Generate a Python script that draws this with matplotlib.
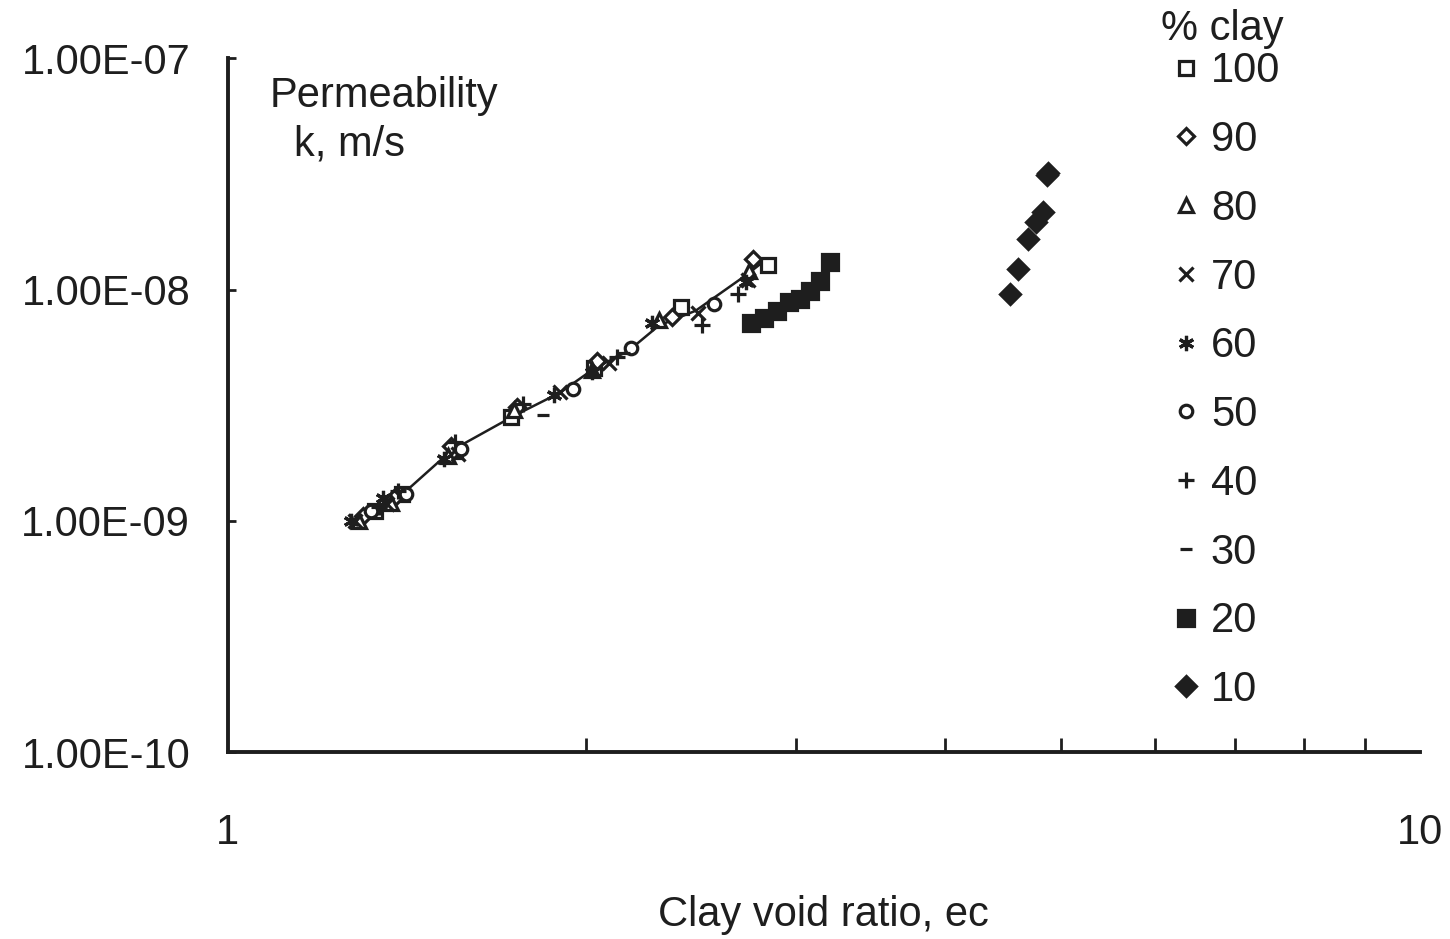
import numpy as np
import matplotlib.pyplot as plt
from matplotlib.ticker import FixedLocator, FuncFormatter, NullFormatter

plt.rcParams['font.family'] = ['Liberation Sans', 'DejaVu Sans']

# data (clay void ratio, permeability m/s)
x_100 = [1.33, 1.40, 1.55, 1.73, 2.03, 2.40, 2.84]
k_100 = [1.10e-9, 1.30e-9, 2.00e-9, 2.80e-9, 4.60e-9, 8.40e-9, 1.28e-8]
x_90 = [1.30, 1.38, 1.54, 1.75, 2.04, 2.36, 2.76]
k_90 = [1.05e-9, 1.25e-9, 2.10e-9, 3.10e-9, 4.90e-9, 7.60e-9, 1.35e-8]
x_80 = [1.29, 1.37, 1.53, 1.74, 2.02, 2.30, 2.74]
k_80 = [1.00e-9, 1.20e-9, 1.90e-9, 3.00e-9, 4.50e-9, 7.40e-9, 1.20e-8]
x_70 = [1.28, 1.36, 1.56, 1.90, 2.09, 2.48, 2.73]
k_70 = [1.00e-9, 1.18e-9, 1.95e-9, 3.60e-9, 4.80e-9, 7.90e-9, 1.10e-8]
x_60 = [1.27, 1.35, 1.52, 1.88, 2.02, 2.27, 2.72]
k_60 = [1.00e-9, 1.25e-9, 1.85e-9, 3.50e-9, 4.40e-9, 7.20e-9, 1.08e-8]
x_50 = [1.32, 1.41, 1.57, 1.95, 2.18, 2.56]
k_50 = [1.10e-9, 1.30e-9, 2.05e-9, 3.70e-9, 5.60e-9, 8.70e-9]
x_40 = [1.34, 1.39, 1.55, 1.77, 2.12, 2.50, 2.68]
k_40 = [1.15e-9, 1.35e-9, 2.20e-9, 3.20e-9, 5.10e-9, 7.00e-9, 9.60e-9]
x_30 = [1.84, 2.15]
k_30 = [2.87e-9, 5.30e-9]
x_20 = [2.75, 2.82, 2.89, 2.96, 3.02, 3.08, 3.14, 3.20]
k_20 = [7.2e-9, 7.5e-9, 8.1e-9, 8.8e-9, 9.1e-9, 9.9e-9, 1.09e-8, 1.31e-8]
x_10 = [4.53, 4.60, 4.69, 4.77, 4.83, 4.87, 4.88]
k_10 = [9.6e-9, 1.23e-8, 1.66e-8, 1.95e-8, 2.16e-8, 3.12e-8, 3.20e-8]

# thin connecting line through the main cluster
line_x = [1.285, 1.32, 1.367, 1.394, 1.54, 1.74, 1.90, 2.03, 2.17, 2.30, 2.47, 2.72, 2.81]
line_k = [1.04e-9, 1.13e-9, 1.22e-9, 1.27e-9, 2.01e-9, 2.85e-9, 3.58e-9, 4.55e-9,
          5.44e-9, 6.98e-9, 8.1e-9, 1.15e-8, 1.31e-8]

ink = '#1e1e1e'
fs = 30

series = [
  ('100', x_100, k_100, dict(marker='s', mfc='white', ms=10)),
  ('90', x_90, k_90, dict(marker='D', mfc='white', ms=8)),
  ('80', x_80, k_80, dict(marker='^', mfc='white', ms=10)),
  ('70', x_70, k_70, dict(marker='x', ms=10)),
  ('60', x_60, k_60, dict(marker=(6, 2, 0), ms=11)),
  ('50', x_50, k_50, dict(marker='o', mfc='white', ms=9)),
  ('40', x_40, k_40, dict(marker='+', ms=12)),
  ('30', x_30, k_30, dict(marker='_', ms=9)),
  ('20', x_20, k_20, dict(marker='s', mfc=ink, ms=11)),
  ('10', x_10, k_10, dict(marker='D', mfc=ink, ms=10)),
]

fig = plt.figure(figsize=(14.5, 9.39), dpi=100)
ax = fig.add_axes([0.157, 0.199, 0.822, 0.739])
ax.set_xscale('log')
ax.set_yscale('log')
ax.set_xlim(1, 10)
ax.set_ylim(1e-10, 1e-7)

ax.plot(line_x, line_k, '-', color=ink, lw=1.8, zorder=1)
for name, xs, ks, style in series:
  ax.plot(xs, ks, linestyle='none', color=ink, mec=ink, mew=2.3,
          label=name, zorder=3, **style)

for side in ['top', 'right']:
  ax.spines[side].set_visible(False)
for side in ['left', 'bottom']:
  ax.spines[side].set_linewidth(2.8)
  ax.spines[side].set_color(ink)

ax.xaxis.set_major_locator(FixedLocator([1, 10]))
ax.xaxis.set_minor_locator(FixedLocator([2, 3, 4, 5, 6, 7, 8, 9]))
ax.xaxis.set_minor_formatter(NullFormatter())
ax.xaxis.set_major_formatter(FuncFormatter(lambda v, p: f'{v:g}'))
ax.tick_params(axis='x', which='major', length=0, pad=44, labelsize=fs, colors=ink)
ax.tick_params(axis='x', which='minor', direction='in', length=10, width=2, colors=ink)

ax.yaxis.set_major_locator(FixedLocator([1e-10, 1e-9, 1e-8, 1e-7]))
ax.yaxis.set_minor_locator(FixedLocator([]))
ax.yaxis.set_major_formatter(FuncFormatter(lambda v, p: f'{v:.2E}'))
ax.tick_params(axis='y', which='major', direction='in', length=6, width=2,
               pad=27, labelsize=fs, colors=ink)

ax.set_xlabel('Clay void ratio, ec', fontsize=fs, color=ink, labelpad=30)

ax.text(0.035, 0.975, 'Permeability', transform=ax.transAxes, fontsize=fs,
        color=ink, va='top', ha='left')
ax.text(0.056, 0.905, 'k, m/s', transform=ax.transAxes, fontsize=fs,
        color=ink, va='top', ha='left')

# legend title sits closer to the first entry than matplotlib's default
ax.text(0.783, 1.042, '% clay', transform=ax.transAxes, fontsize=fs,
        color=ink, va='center', ha='left')
leg = ax.legend(loc='upper left', bbox_to_anchor=(0.776, 1.04), frameon=False,
                fontsize=fs, handlelength=0.6, handletextpad=0.3,
                labelspacing=0.69, borderpad=0, markerscale=1.0)
for t in leg.get_texts():
  t.set_color(ink)

fig.savefig('out.png', dpi=100, facecolor='white')
